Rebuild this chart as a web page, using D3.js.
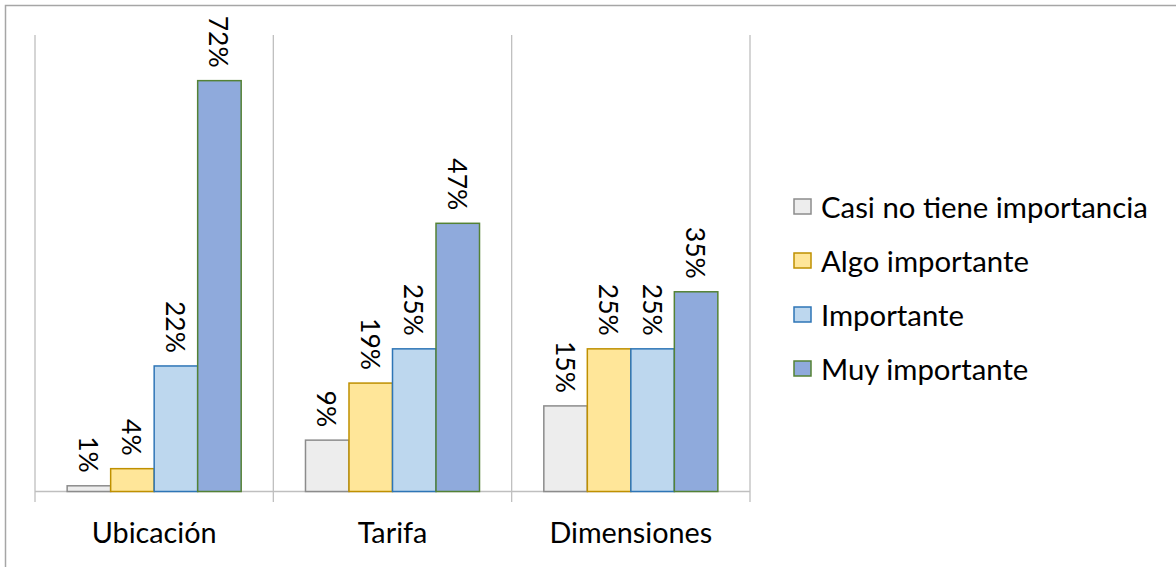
<!DOCTYPE html>
<html>
<head>
<meta charset="utf-8">
<script src="https://cdn.jsdelivr.net/npm/d3@7"></script>
<style>
  html, body { margin: 0; padding: 0; background: #fff; }
  svg { display: block; }
  text { font-family: Lato, "Noto Sans", sans-serif; fill: #000; }
</style>
</head>
<body>
<svg id="chart" width="1176" height="567"></svg>
<script>
const categories = ["Ubicación", "Tarifa", "Dimensiones"];
const seriesNames = ["Casi no tiene importancia", "Algo importante", "Importante", "Muy importante"];
const casiNoTiene = [1, 9, 15];
const algoImportante = [4, 19, 25];
const importante = [22, 25, 25];
const muyImportante = [72, 47, 35];
const yDomain = [0, 80];

const fills = ["#ededed", "#ffe699", "#bdd7ee", "#8faadc"];
const strokes = ["#8c8c8c", "#bf9000", "#2e75b6", "#548235"];

const seriesValues = [casiNoTiene, algoImportante, importante, muyImportante];

const svg = d3.select("#chart");
const W = 1176, H = 567;

// outer border
svg.append("rect").attr("x", 5.5).attr("y", 5.5).attr("width", W + 10).attr("height", H + 10)
  .attr("fill", "none").attr("stroke", "#a6a6a6").attr("stroke-width", 1.5);

const plotLeft = 35, plotRight = 750, plotTop = 35, baseline = 491.5;

const x0 = d3.scaleBand().domain(categories).range([plotLeft, plotRight]).paddingInner(0).paddingOuter(0);
const x1 = d3.scaleBand().domain(seriesNames).range([0, x0.bandwidth()]).paddingInner(0).paddingOuter(0.739);
const y = d3.scaleLinear().domain(yDomain).range([baseline, plotTop]);

// separators
const seps = categories.map(c => x0(c)).concat([x0(categories[categories.length - 1]) + x0.bandwidth()]);
svg.append("g").selectAll("line").data(seps).join("line")
  .attr("x1", d => d).attr("x2", d => d)
  .attr("y1", plotTop).attr("y2", 502)
  .attr("stroke", "#bfbfbf").attr("stroke-width", 1.3);

// baseline
svg.append("line").attr("x1", plotLeft).attr("x2", plotRight).attr("y1", baseline).attr("y2", baseline)
  .attr("stroke", "#bfbfbf").attr("stroke-width", 1.3);

// bars
const barData = [];
categories.forEach((c, ci) => {
  seriesNames.forEach((s, si) => {
    barData.push({ cat: c, ser: s, si: si, v: seriesValues[si][ci] });
  });
});

const gBars = svg.append("g");
gBars.selectAll("rect").data(barData).join("rect")
  .attr("x", d => x0(d.cat) + x1(d.ser))
  .attr("y", d => y(d.v))
  .attr("width", x1.bandwidth())
  .attr("height", d => y(0) - y(d.v))
  .attr("fill", d => fills[d.si])
  .attr("stroke", d => strokes[d.si])
  .attr("stroke-width", 1.5);

// font fitting helper
function fitSize(str, targetWidth, base) {
  const t = svg.append("text").attr("font-size", base).text(str);
  const w = t.node().getComputedTextLength();
  t.remove();
  return base * targetWidth / w;
}
const labelSize = fitSize("72%", 52, 30);
const catSize = fitSize("Ubicación", 125, 30);
const legSize = fitSize("Casi no tiene importancia", 327, 30);

// value labels (rotated)
gBars.selectAll("text").data(barData).join("text")
  .attr("transform", d => {
    const cx = x0(d.cat) + x1(d.ser) + x1.bandwidth() / 2;
    const ty = y(d.v) - 13;
    return `translate(${cx},${ty}) rotate(90)`;
  })
  .attr("text-anchor", "end")
  .attr("dominant-baseline", "central")
  .attr("font-size", labelSize)
  .text(d => d.v + "%");

// category labels
svg.append("g").selectAll("text").data(categories).join("text")
  .attr("x", d => x0(d) + x0.bandwidth() / 2)
  .attr("y", 543)
  .attr("text-anchor", "middle")
  .attr("font-size", catSize)
  .text(d => d);

// legend
const legendY = d3.scalePoint().domain(seriesNames).range([206.5, 368.5]);
const lg = svg.append("g");
lg.selectAll("rect").data(seriesNames).join("rect")
  .attr("x", 794).attr("y", d => legendY(d) - 7.5)
  .attr("width", 17).attr("height", 15)
  .attr("fill", (d, i) => fills[i]).attr("stroke", (d, i) => strokes[i]).attr("stroke-width", 1.5);
lg.selectAll("text").data(seriesNames).join("text")
  .attr("x", 821).attr("y", d => legendY(d))
  .attr("dominant-baseline", "central")
  .attr("font-size", legSize)
  .text(d => d);
</script>
</body>
</html>
